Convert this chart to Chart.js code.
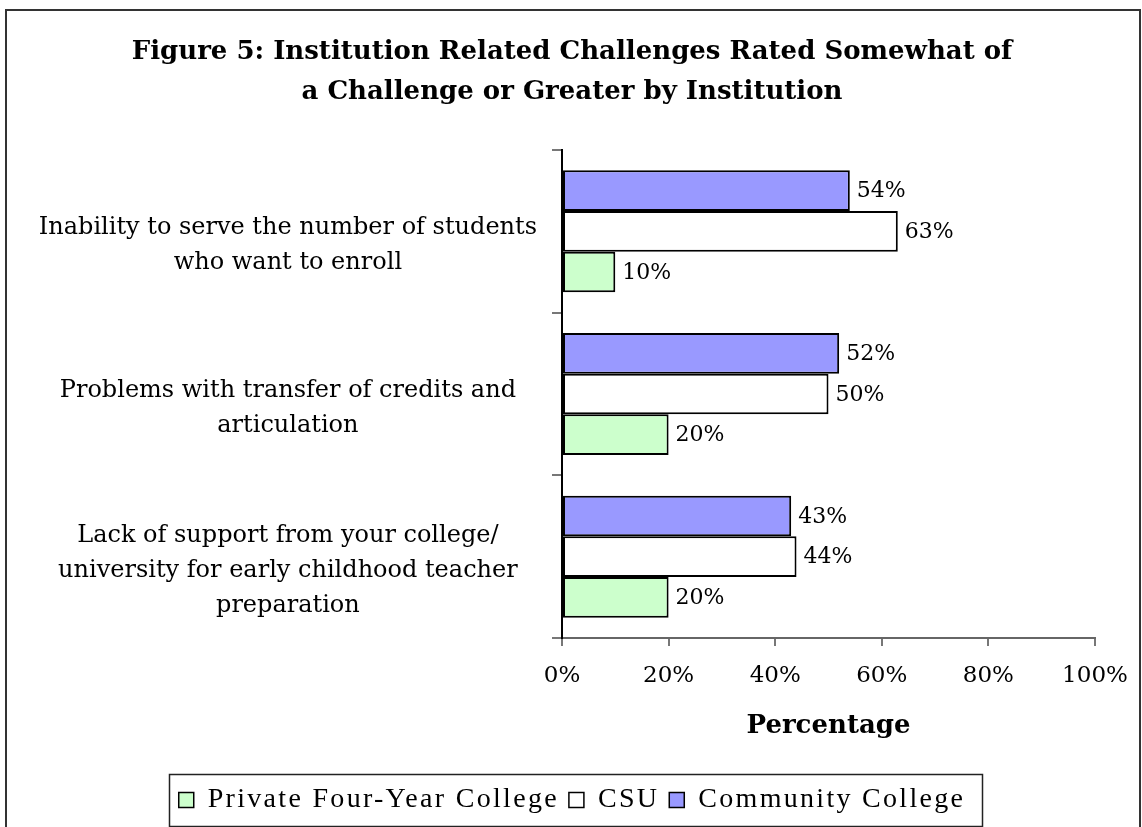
<!DOCTYPE html>
<html>
<head>
<meta charset="utf-8">
<script src="https://cdn.jsdelivr.net/npm/chart.js@4/dist/chart.umd.min.js"></script>
<style>
  html, body { margin: 0; padding: 0; background: #ffffff; }
  #wrap { width: 1142px; height: 827px; }
</style>
</head>
<body>
<div id="wrap"><canvas id="c" width="1142" height="827"></canvas></div>
<script>
const titleLines = ["Figure 5: Institution Related Challenges Rated Somewhat of", "a Challenge or Greater by Institution"];
const categories = [
  ["Inability to serve the number of students", "who want to enroll"],
  ["Problems with transfer of credits and", "articulation"],
  ["Lack of support from your college/", "university for early childhood teacher", "preparation"]
];
const communityCollege = [54, 52, 43];
const csu = [63, 50, 44];
const privateFourYear = [10, 20, 20];
const seriesNames = ["Community College", "CSU", "Private Four-Year College"];
const xTicks = [0, 20, 40, 60, 80, 100];
const axisTitle = "Percentage";

const SERIF = "'DejaVu Serif', 'Liberation Serif', serif";
const TIMES = "'Liberation Serif', 'Times New Roman', serif";

const framePlugin = {
  id: 'frame',
  afterInit(chart) {
    const lg = chart.legend;
    if (!lg) return;
    const ctx = chart.ctx;
    ['fit', 'draw'].forEach(fn => {
      const orig = lg[fn];
      lg[fn] = function (...a) {
        ctx.save();
        try { ctx.letterSpacing = '2.3px'; } catch (e) {}
        const r = orig.apply(this, a);
        ctx.restore();
        return r;
      };
    });
  },
  beforeDraw(chart) {
    const ys = chart.scales.y;
    if (ys) ys._computeLabelArea = () => undefined;
    const ctx = chart.ctx;
    ctx.save();
    ctx.fillStyle = '#ffffff';
    ctx.fillRect(0, 0, chart.width, chart.height);
    ctx.strokeStyle = '#333333';
    ctx.lineWidth = 2;
    ctx.strokeRect(6, 10, 1134, 840);
    ctx.restore();
  },
  afterDraw(chart) {
    const lg = chart.legend;
    if (!lg || !lg.legendHitBoxes || !lg.legendHitBoxes.length) return;
    const hb = lg.legendHitBoxes;
    let l = Infinity, r = -Infinity, t = Infinity, b = -Infinity;
    hb.forEach(h => { l = Math.min(l, h.left); r = Math.max(r, h.left + h.width); t = Math.min(t, h.top); b = Math.max(b, h.top + h.height); });
    const ctx = chart.ctx;
    ctx.save();
    ctx.strokeStyle = '#222222';
    ctx.lineWidth = 1.5;
    ctx.strokeRect(Math.round(l - 10) + 0.5, Math.round(t - 12) + 0.5, Math.round(r - l + 26), Math.round(b - t + 24));
    ctx.restore();
  }
};

const valueLabels = {
  id: 'valueLabels',
  afterDatasetsDraw(chart) {
    const ctx = chart.ctx;
    ctx.save();
    ctx.font = "22px " + SERIF;
    ctx.fillStyle = '#000000';
    ctx.textAlign = 'left';
    ctx.textBaseline = 'middle';
    chart.data.datasets.forEach((ds, i) => {
      const meta = chart.getDatasetMeta(i);
      meta.data.forEach((el, j) => {
        ctx.fillText(ds.data[j] + '%', el.x + 7, el.y + 1);
      });
    });
    ctx.restore();
  }
};

new Chart(document.getElementById('c'), {
  type: 'bar',
  data: {
    labels: categories,
    datasets: [
      { label: seriesNames[0], data: communityCollege, backgroundColor: '#9999FF', borderColor: '#000000', borderWidth: 2, borderSkipped: false },
      { label: seriesNames[1], data: csu, backgroundColor: '#FFFFFF', borderColor: '#000000', borderWidth: 2, borderSkipped: false },
      { label: seriesNames[2], data: privateFourYear, backgroundColor: '#CCFFCC', borderColor: '#000000', borderWidth: 2, borderSkipped: false }
    ]
  },
  options: {
    indexAxis: 'y',
    responsive: false,
    animation: false,
    devicePixelRatio: 1,
    layout: { padding: { left: 49, right: 47, top: 32, bottom: 3 } },
    datasets: { bar: { categoryPercentage: 0.75, barPercentage: 1.0 } },
    plugins: {
      title: {
        display: true,
        text: titleLines,
        color: '#000000',
        font: { family: SERIF, size: 26, weight: 'bold', lineHeight: 40 / 26 },
        padding: { top: 0, bottom: 38 }
      },
      legend: {
        display: true,
        position: 'bottom',
        reverse: true,
        labels: {
          color: '#000000',
          font: { family: TIMES, size: 28 },
          boxWidth: 15,
          boxHeight: 15,
          padding: 10,
          generateLabels(chart) {
            return chart.data.datasets.map((ds, i) => ({
              text: ds.label,
              fillStyle: ds.backgroundColor,
              strokeStyle: '#000000',
              lineWidth: 1.5,
              hidden: false,
              datasetIndex: i,
              fontColor: '#000000'
            }));
          }
        }
      },
      tooltip: { enabled: false }
    },
    scales: {
      x: {
        min: 0,
        max: 100,
        afterBuildTicks(scale) { scale.ticks = xTicks.map(v => ({ value: v })); },
        afterFit(scale) { scale.height = 138; },
        ticks: {
          color: '#000000',
          font: { family: SERIF, size: 23, lineHeight: 1.4 },
          padding: 14,
          callback: v => v + '%'
        },
        grid: { drawOnChartArea: false, drawTicks: true, tickLength: 8, color: '#777777', lineWidth: 2 },
        border: { display: true, color: '#666666', width: 2 },
        title: {
          display: true,
          text: axisTitle,
          color: '#000000',
          font: { family: SERIF, size: 26, weight: 'bold' },
          padding: { top: 0, bottom: 34 }
        }
      },
      y: {
        afterFit(scale) { scale.width = 513; },
        ticks: {
          color: '#000000',
          font: { family: SERIF, size: 24, lineHeight: 35 / 24 },
          crossAlign: 'center',
          padding: 15,
          labelOffset: 14
        },
        grid: { drawOnChartArea: false, drawTicks: true, tickLength: 10, color: '#777777', lineWidth: 2, offset: true },
        border: { display: true, color: '#000000', width: 2 }
      }
    }
  },
  plugins: [framePlugin, valueLabels]
});
</script>
</body>
</html>
